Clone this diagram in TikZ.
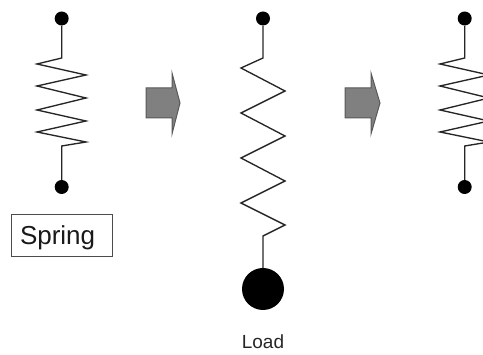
\documentclass[tikz,border=0pt]{standalone}
\usepackage{fontspec}
\setmainfont{Liberation Sans}
\tikzset{
  dot/.style={circle,fill=black,draw=none,inner sep=0pt,minimum size=14pt},
  load/.style={circle,fill=black,draw=none,inner sep=0pt,minimum size=42pt},
  wire/.style={draw=black!85,line width=1.35pt,line join=miter},
  fat/.style={draw=black!65,fill=black!50,line width=1pt,line join=miter},
  springlabel/.style={draw=black!70,line width=0.8pt,minimum height=42pt,inner xsep=9pt,inner ysep=0pt,text width=83pt,align=left,font=\fontsize{26}{28}\selectfont,text=black!90},
  loadlabel/.style={inner sep=0pt,font=\fontsize{19}{21}\selectfont,text=black!85}
}
\begin{document}
\begin{tikzpicture}[x=1pt,y=-1pt]
\useasboundingbox (0,0) rectangle (483,355);
\clip (0,0) rectangle (483,355);
% first spring
\node[dot] (a1) at (61.7,18.5) {};
\node[dot] (b1) at (61.7,187) {};
\path[wire] (a1) -- (61.7,58) -- (37,64) -- (86,75) -- (37,86) -- (86,98) -- (37,110) -- (86,121) -- (37,132) -- (86,142) -- (61.7,146) -- (b1);
\node[springlabel] (spr) at (61.5,235) {\raisebox{-3pt}[18.6pt][5.4pt]{Spring}};
% arrow 1
\path[fat] (146,88) -- (172,88) -- (172,73) -- (180,103) -- (172,134) -- (172,118) -- (146,118) -- cycle;
% second spring
\node[dot] (a2) at (263,18.5) {};
\node[load] (b2) at (263,289) {};
\path[wire] (a2) -- (263,58) -- (241,68) -- (285,91) -- (241,113) -- (285,136) -- (241,158) -- (285,181) -- (241,203) -- (285,225) -- (263,236) -- (b2);
\node[loadlabel] (ld) at (263,342) {Load};
% arrow 2
\path[fat] (345,88) -- (371,88) -- (371,73) -- (380,103) -- (371,134) -- (371,118) -- (345,118) -- cycle;
% third spring
\node[dot] (a3) at (464.7,18.5) {};
\node[dot] (b3) at (464.7,187) {};
\path[wire] (a3) -- (464.7,58) -- (440,64) -- (489,75) -- (440,86) -- (489,98) -- (440,110) -- (489,121) -- (440,132) -- (489,142) -- (464.7,146) -- (b3);
\end{tikzpicture}
\end{document}
